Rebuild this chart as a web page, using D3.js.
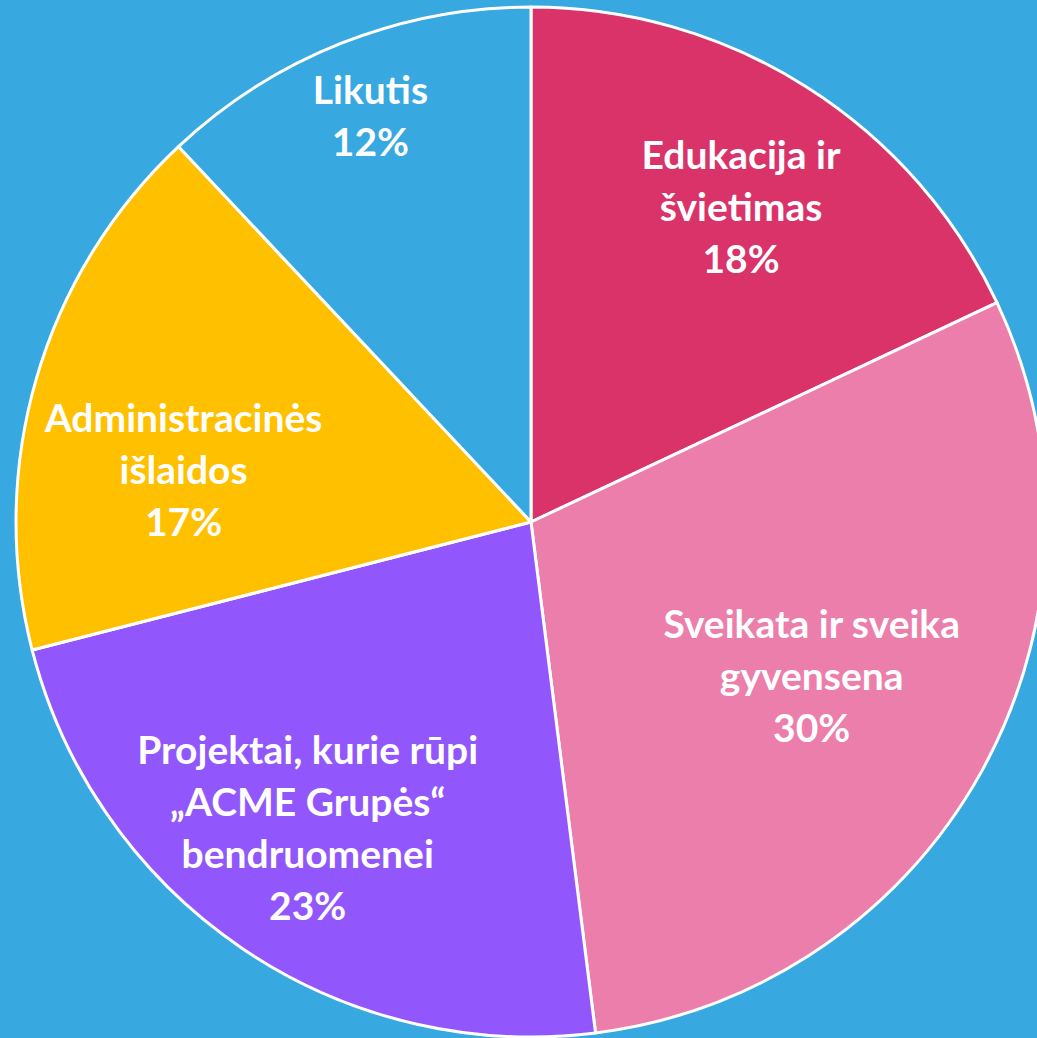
<!DOCTYPE html>
<html>
<head>
<meta charset="utf-8">
<script src="https://cdn.jsdelivr.net/npm/d3@7"></script>
<style>
  html, body { margin: 0; padding: 0; background: #38a8e0; overflow: hidden; }
  svg { display: block; }
  .slice-label { font-family: Lato, "Open Sans", sans-serif; font-weight: 700; fill: #fff; }
</style>
</head>
<body>
<svg id="chart"></svg>
<script>
// chart data
const categories = [
  ['Edukacija ir', 'švietimas'],
  ['Sveikata ir sveika', 'gyvensena'],
  ['Projektai, kurie rūpi', '„ACME Grupės“', 'bendruomenei'],
  ['Administracinės', 'išlaidos'],
  ['Likutis']
]
const shares = [18, 30, 23, 17, 12]
const sliceColors = ['#d9336a', '#ec7eab', '#9157fc', '#ffc000', '#38a8e0']

// label placement, as a share of the radius plus a small turn in degrees
// (mimics the Excel "best fit" placement)
const labelRadiusFactor = [0.735, 0.622, 0.736, 0.682, 0.847]
const labelAngleShift = [1.3, 0, 1.9, -7.8, 0]

const width = 1037
const height = 1038
const cx = 531
const cy = 522
const radius = 515
const lineHeight = 52

const svg = d3.select('#chart')
  .attr('width', width)
  .attr('height', height)

const pieScale = d3.pie()
  .sort(null)
  .value(d => d)

const arcs = pieScale(shares)

const arc = d3.arc()
  .innerRadius(0)
  .outerRadius(radius)

const g = svg.append('g')
  .attr('transform', 'translate(' + cx + ',' + cy + ')')

g.selectAll('path.slice')
  .data(arcs)
  .enter()
  .append('path')
  .attr('class', 'slice')
  .attr('d', arc)
  .attr('fill', (d, i) => sliceColors[i])
  .attr('stroke', '#fff')
  .attr('stroke-width', 3)
  .attr('stroke-linejoin', 'round')

function labelPos (d, i) {
  const r = radius * labelRadiusFactor[i]
  const shift = labelAngleShift[i] * Math.PI / 180
  const shifted = { startAngle: d.startAngle + shift, endAngle: d.endAngle + shift }
  return d3.arc().innerRadius(r).outerRadius(r).centroid(shifted)
}

const labels = g.selectAll('text.slice-label')
  .data(arcs)
  .enter()
  .append('text')
  .attr('class', 'slice-label')
  .attr('text-anchor', 'middle')
  .attr('font-size', 39)
  .attr('transform', (d, i) => 'translate(' + labelPos(d, i).join(',') + ')')

labels.each(function (d, i) {
  const lines = categories[i].concat([shares[i] + '%'])
  const top = -(lines.length - 1) * lineHeight / 2
  d3.select(this)
    .selectAll('tspan')
    .data(lines)
    .enter()
    .append('tspan')
    .attr('x', 0)
    .attr('y', (t, j) => top + j * lineHeight)
    .attr('dy', '0.35em')
    .text(t => t)
})
</script>
</body>
</html>
